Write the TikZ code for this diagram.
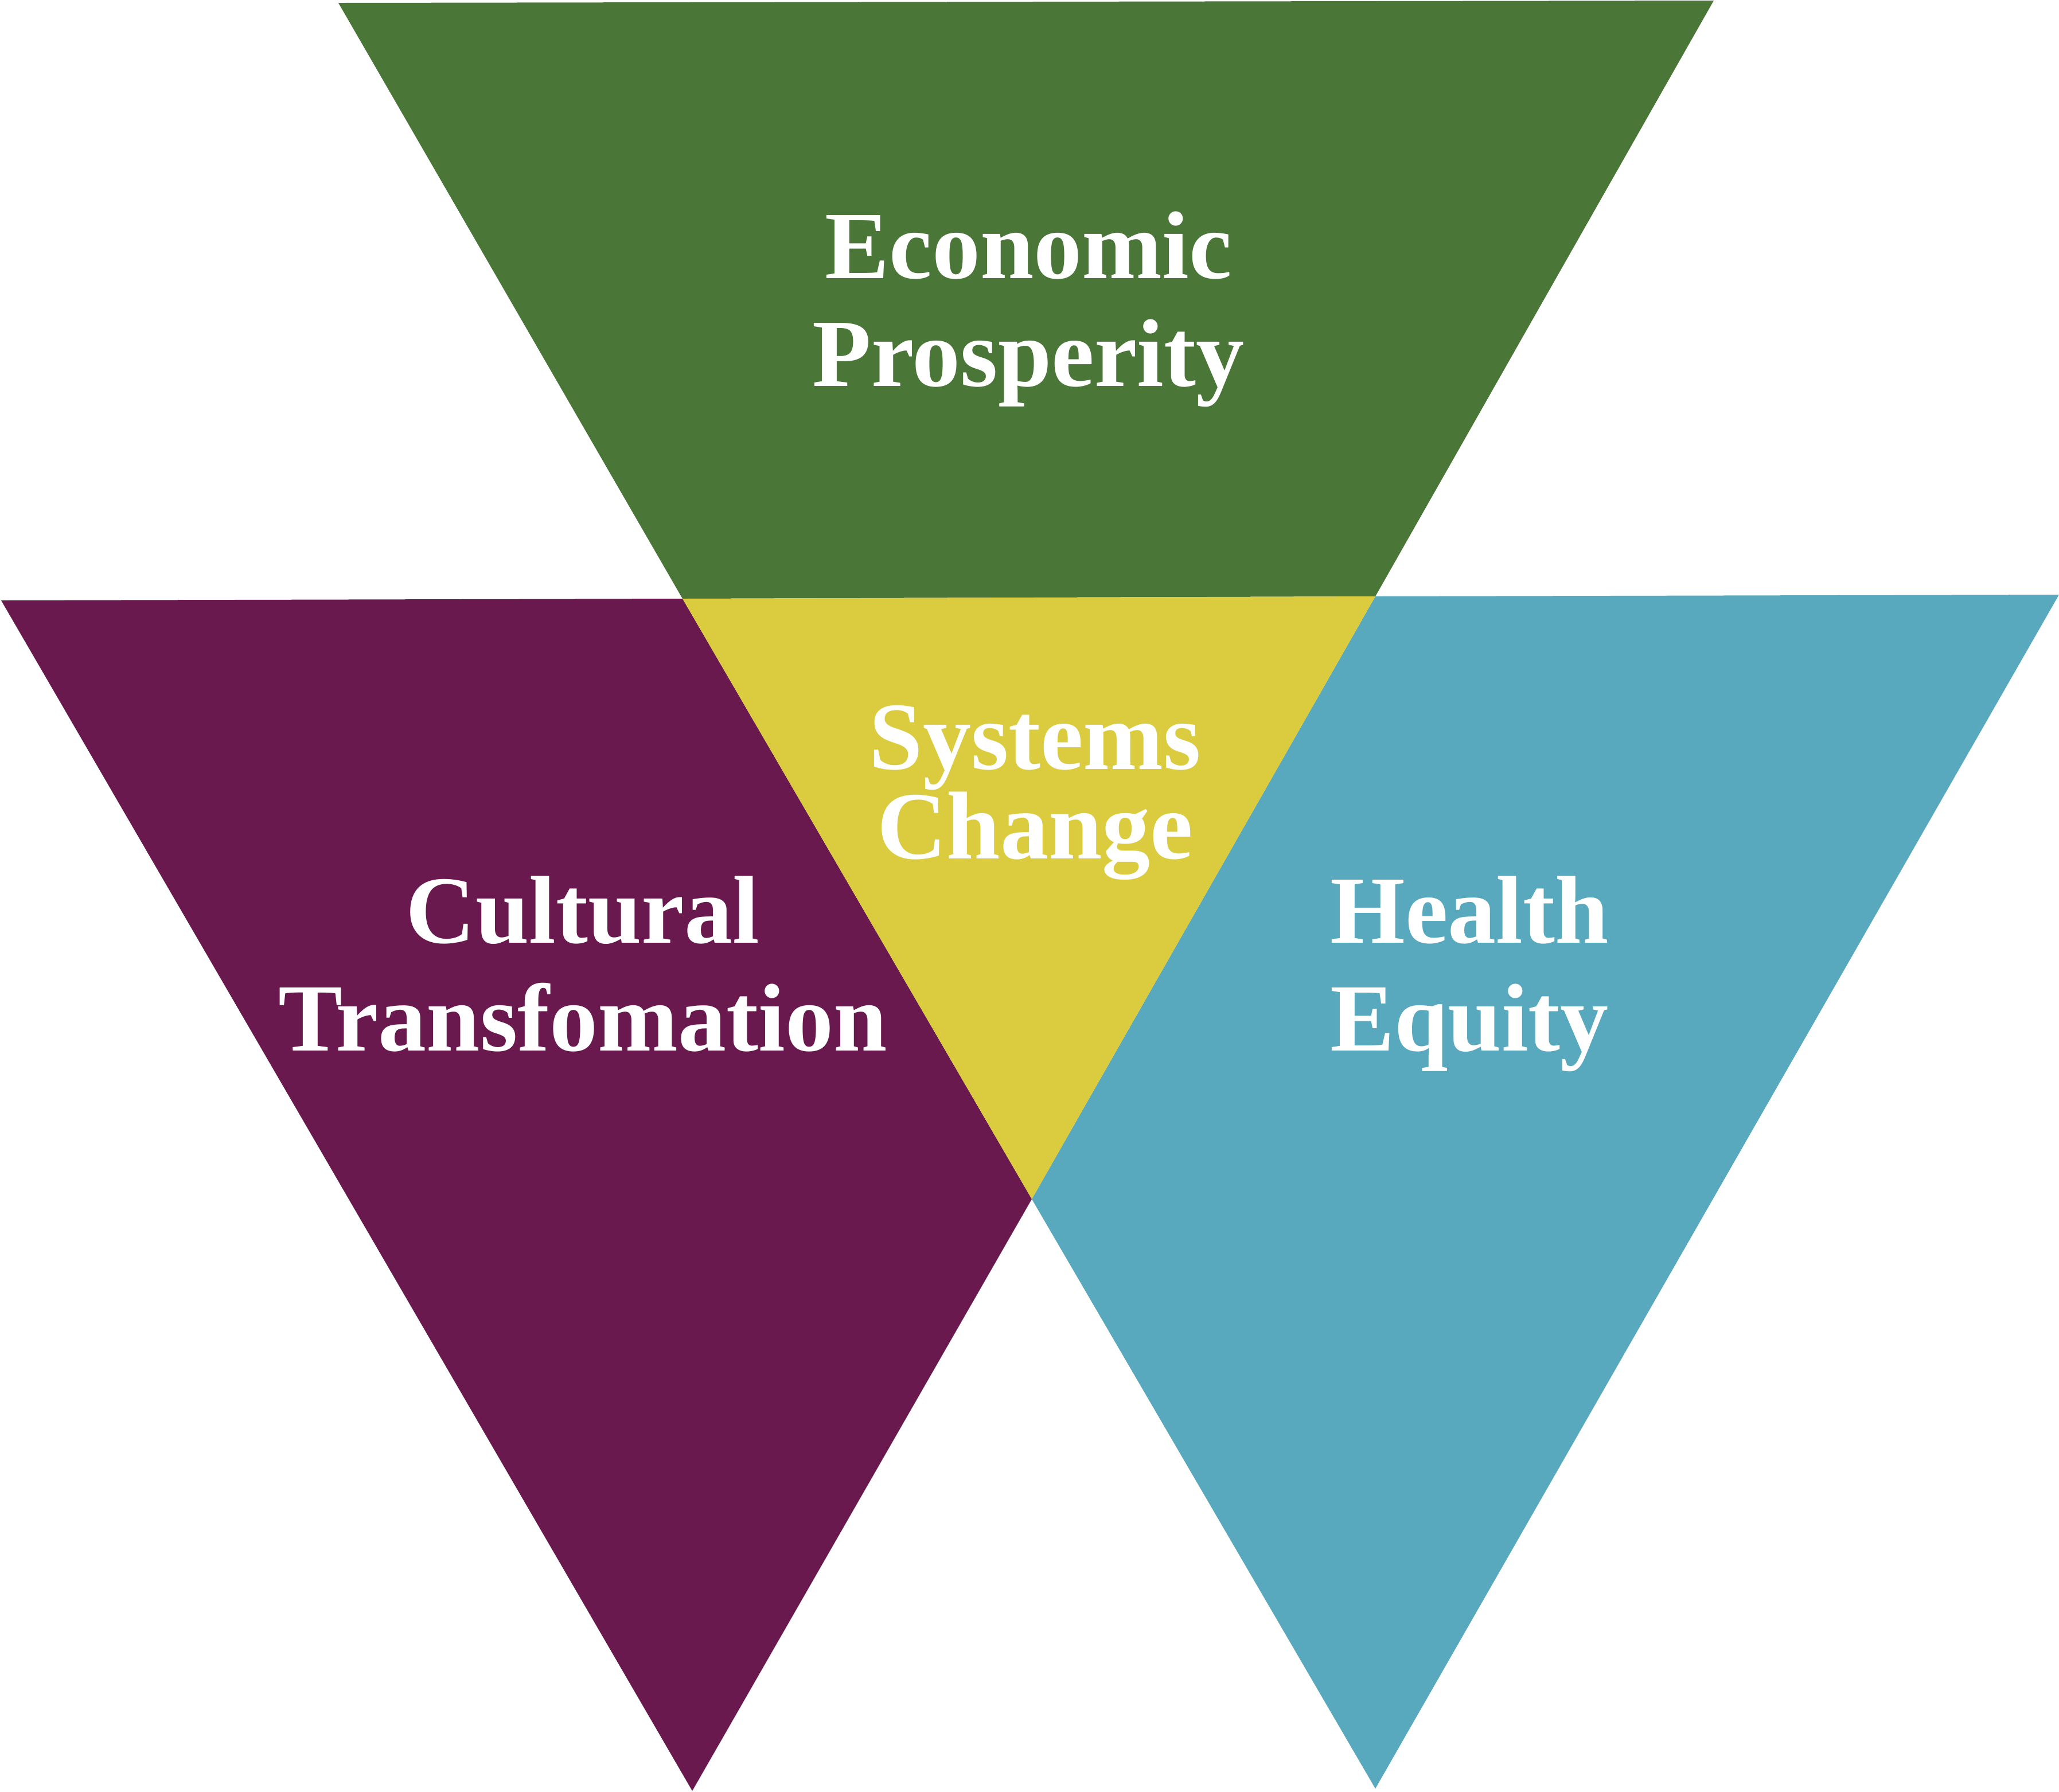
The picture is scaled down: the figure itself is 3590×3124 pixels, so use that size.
\documentclass[tikz,border=0pt]{standalone}
\usepackage{fontspec}
\setmainfont{Liberation Serif}
\definecolor{ecogreen}{HTML}{4A7638}
\definecolor{culpurple}{HTML}{6A194E}
\definecolor{sysyellow}{HTML}{DBCB3E}
\definecolor{healthblue}{HTML}{58A9BE}
\tikzset{
  panel/.style={draw=none},
  label/.style={text=white, inner sep=0pt, align=center, anchor=base,
    font=\fontsize{33.6}{37.6}\selectfont\bfseries},
  centerlabel/.style={label, font=\fontsize{33.6}{31.2}\selectfont\bfseries}
}
\begin{document}
\begin{tikzpicture}[x=0.2pt,y=-0.2pt]
\useasboundingbox (0,0) rectangle (3590,3124);
% vertices
\coordinate (GTL) at (590,5);
\coordinate (GTR) at (2988,1);
\coordinate (IL) at (1190,1044);
\coordinate (IR) at (2398,1040);
\coordinate (IC) at (1799,2091);
\coordinate (PL) at (2,1047);
\coordinate (PB) at (1207,3123);
\coordinate (BR) at (3590,1037);
\coordinate (BB) at (2398,3119);
% shapes
\fill[ecogreen] (GTL) -- (GTR) -- (IR) -- (IL) -- cycle;
\fill[culpurple] (PL) -- (IL) -- (IC) -- (PB) -- cycle;
\fill[healthblue] (IR) -- (BR) -- (BB) -- (IC) -- cycle;
\fill[sysyellow] (IL) -- (IR) -- (IC) -- cycle;
% labels (anchor=base is the baseline of the last line)
\node[label] (eco) at (1793,673) {Economic\\Prosperity};
\node[centerlabel] (sys) at (1805,1497) {Systems\\Change};
\node[label] (cul) at (1016,1832) {Cultural\\Transfomation};
\node[label] (hea) at (2562,1832) {Health\\Equity};
\end{tikzpicture}
\end{document}
